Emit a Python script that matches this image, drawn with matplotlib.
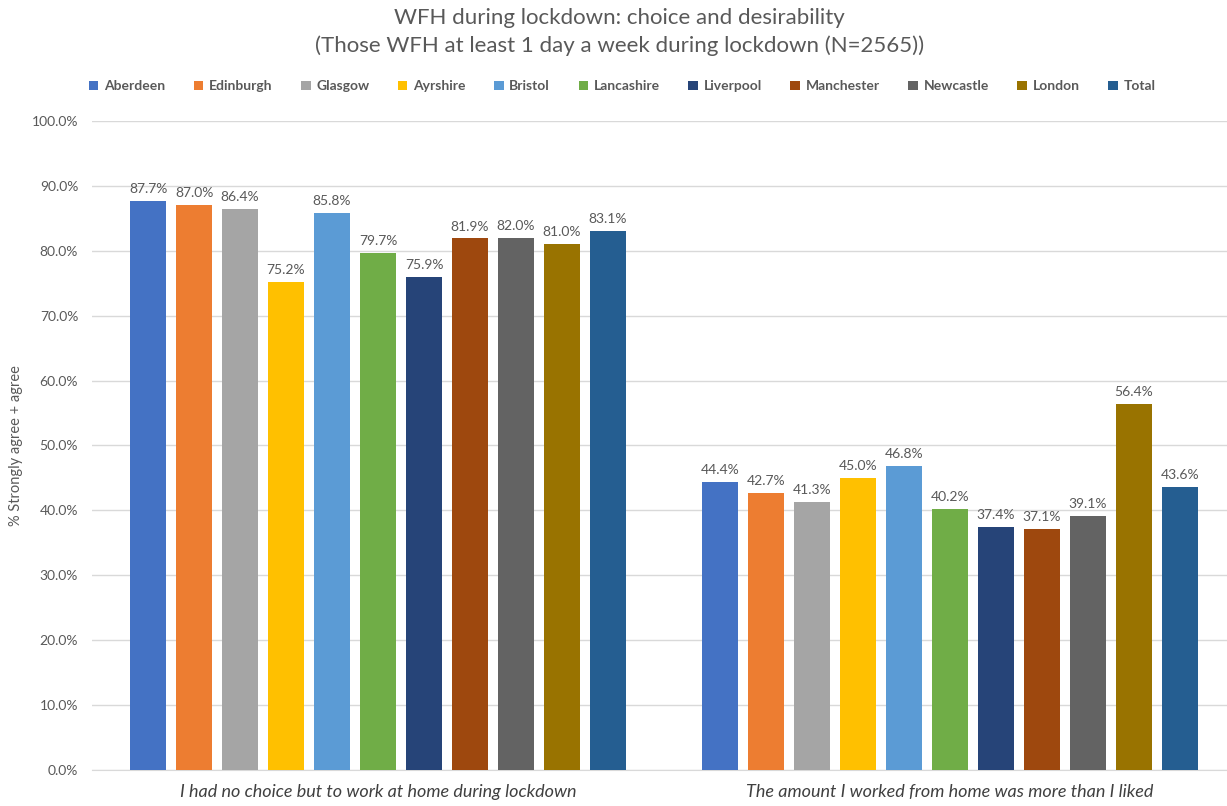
import matplotlib
matplotlib.use("Agg")
import matplotlib.pyplot as plt
import numpy as np

categories = [
    "I had no choice but to work at home during lockdown",
    "The amount I worked from home was more than I liked",
]
regions = ["Aberdeen", "Edinburgh", "Glasgow", "Ayrshire", "Bristol", "Lancashire",
           "Liverpool", "Manchester", "Newcastle", "London", "Total"]
no_choice = [87.7, 87.0, 86.4, 75.2, 85.8, 79.7, 75.9, 81.9, 82.0, 81.0, 83.1]
more_than_liked = [44.4, 42.7, 41.3, 45.0, 46.8, 40.2, 37.4, 37.1, 39.1, 56.4, 43.6]
colors = ["#4472C4", "#ED7D31", "#A5A5A5", "#FFC000", "#5B9BD5", "#70AD47",
          "#264478", "#9E480E", "#636363", "#997300", "#255E91"]
yticks = np.arange(0, 101, 10)

plt.rcParams["font.family"] = ["Lato", "DejaVu Sans"]
text_gray = "#595959"

fig = plt.figure(figsize=(12.27, 8.06), dpi=100)
# plot area runs slightly past the right edge of the canvas
ax = fig.add_axes([0.075, 0.0447, 0.9324, 0.8053])

values = np.array([no_choice, more_than_liked])
pitch = 0.0804
width = 0.0638
x = np.arange(len(categories))
handles = []
for j, (name, col) in enumerate(zip(regions, colors)):
    pos = x + (j - (len(regions) - 1) / 2) * pitch
    bars = ax.bar(pos, values[:, j], width=width, color=col, label=name, zorder=3)
    handles.append(bars)
    for b, v in zip(bars, values[:, j]):
        ax.text(b.get_x() + b.get_width() / 2, v + 0.9, f"{v:.1f}%",
                ha="center", va="bottom", fontsize=10, color=text_gray)

ax.set_xlim(-0.5, 1.5)
ax.set_ylim(0, 100)
ax.set_yticks(yticks)
ax.set_yticklabels([f"{t:.1f}%" for t in yticks], fontsize=10, color=text_gray)
ax.set_xticks(x)
ax.set_xticklabels(categories, fontsize=13, style="italic", color="#404040")
ax.tick_params(axis="both", length=0)
ax.tick_params(axis="x", pad=10)
ax.tick_params(axis="y", pad=10)
ax.grid(axis="y", color="#D9D9D9", linewidth=1, zorder=0)
for s in ["top", "right", "left"]:
    ax.spines[s].set_visible(False)
ax.spines["bottom"].set_color("#D9D9D9")
ax.set_ylabel("% Strongly agree + agree", fontsize=10.5, color=text_gray, labelpad=6)

fig.text(0.505, 0.978, "WFH during lockdown: choice and desirability",
         ha="center", va="center", fontsize=16, color=text_gray)
fig.text(0.505, 0.943, "(Those WFH at least 1 day a week during lockdown (N=2565))",
         ha="center", va="center", fontsize=16, color=text_gray)

fig.legend(handles=handles, labels=regions, loc="center", bbox_to_anchor=(0.507, 0.893),
           ncol=len(regions), frameon=False, handlelength=0.7,
           handleheight=0.7, handletextpad=0.4, columnspacing=2.05,
           prop={"weight": "bold", "size": 10})
for t in fig.legends[0].get_texts():
    t.set_color(text_gray)

fig.savefig("out.png", dpi=100)
